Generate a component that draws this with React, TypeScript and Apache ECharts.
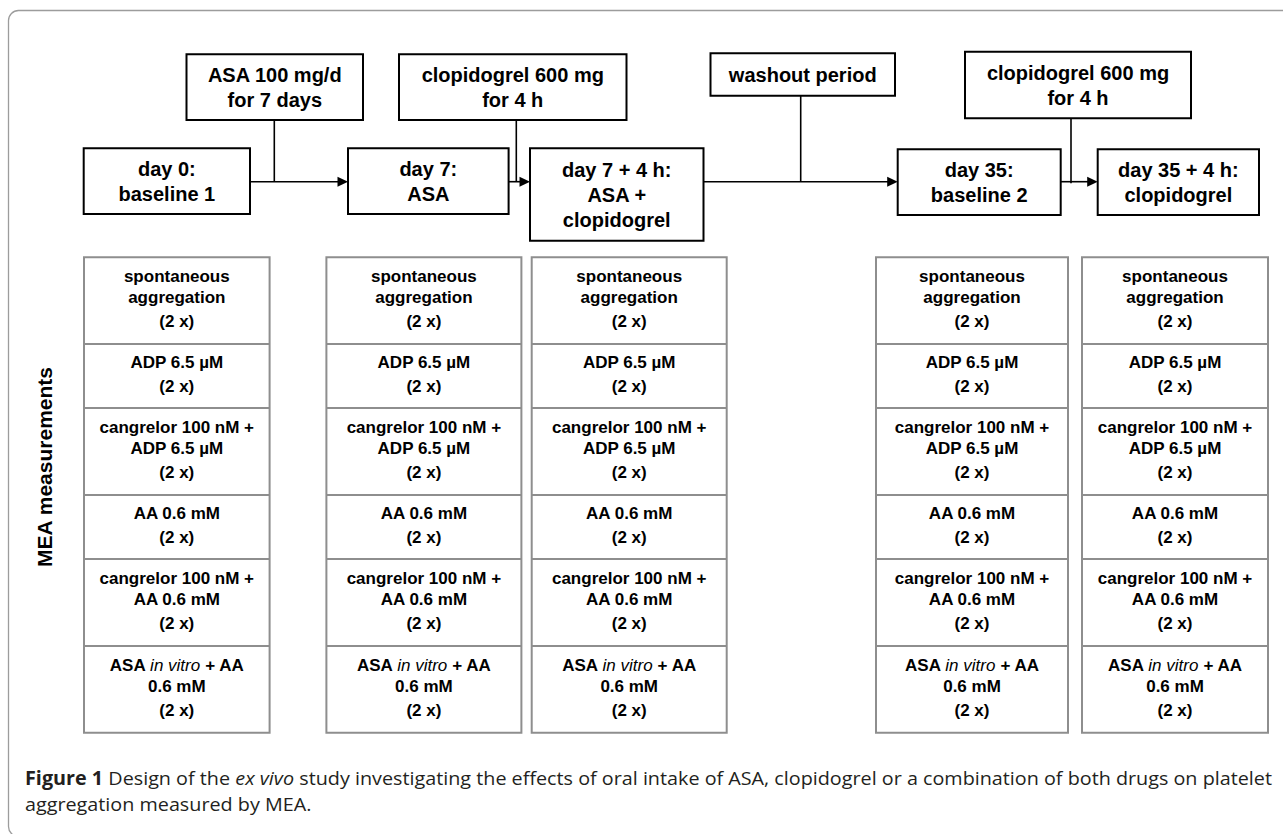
import React, { useEffect, useRef } from "react";
import * as echarts from "echarts";

// ---- content ----
const timepointLabels: string[][] = [
  ["day 0:", "baseline 1"],
  ["day 7:", "ASA"],
  ["day 7 + 4 h:", "ASA +", "clopidogrel"],
  ["day 35:", "baseline 2"],
  ["day 35 + 4 h:", "clopidogrel"],
];
const interventionLabels: string[][] = [
  ["ASA 100 mg/d", "for 7 days"],
  ["clopidogrel 600 mg", "for 4 h"],
  ["washout period"],
  ["clopidogrel 600 mg", "for 4 h"],
];
const measurementLabels: string[][] = [
  ["spontaneous", "aggregation"],
  ["ADP 6.5 µM"],
  ["cangrelor 100 nM +", "ADP 6.5 µM"],
  ["AA 0.6 mM"],
  ["cangrelor 100 nM +", "AA 0.6 mM"],
  ["ASA in vitro + AA", "0.6 mM"],
];
const italicPhrase = "in vitro";
const repeatLabel = "(2 x)";
const sideTitle = "MEA measurements";
const captionBold = "Figure 1";
const captionLine1A = " Design of the ";
const captionItalic = "ex vivo";
const captionLine1B =
  " study investigating the effects of oral intake of ASA, clopidogrel or a combination of both drugs on platelet";
const captionLine2 = "aggregation measured by MEA.";

// ---- layout (positions, not data) ----
const tpBoxes = [
  [83.7, 148.3, 250, 214],
  [348, 148.3, 508.6, 214],
  [530, 148.3, 703.5, 240.7],
  [897.7, 149.3, 1060.7, 215],
  [1097.7, 149.3, 1259, 215],
];
const ivBoxes = [
  [186.5, 54.3, 363, 120],
  [399, 54.3, 626.5, 120],
  [710.5, 53.3, 895, 95.7],
  [965, 51.7, 1191, 118.3],
];
const arrowY = 181.7;
const connectors = [
  { from: 250, to: 348, vx: 274.3, vTop: 120, vBot: 181.7 },
  { from: 508.6, to: 530, vx: 516.3, vTop: 120, vBot: 182 },
  { from: 703.5, to: 897.7, vx: 800.7, vTop: 95.7, vBot: 181.7 },
  { from: 1060.7, to: 1097.7, vx: 1071, vTop: 118.3, vBot: 183.3 },
];
const tableCols = [
  [84, 269.6],
  [326.4, 521.4],
  [531.7, 726.7],
  [876, 1068],
  [1082, 1268],
];
const tableRows = [257.3, 344, 408, 495, 559, 646, 732.7];

const FF = "'Liberation Sans', Arial, Helvetica, sans-serif";
const CF = "'Open Sans', Lato, sans-serif";

function measure(font: string, s: string): number {
  const c = document.createElement("canvas");
  const ctx = c.getContext("2d")!;
  ctx.font = font;
  return ctx.measureText(s).width;
}

function buildGraphics(): any[] {
  const els: any[] = [];
  // outer frame
  els.push({
    type: "rect",
    shape: { x: 8.5, y: 10.5, width: 1400, height: 826, r: 10 },
    style: { fill: "none", stroke: "#9c9c9c", lineWidth: 1.3 },
  });

  const boxText = (lines: string[], cx: number, cy: number, size: number, lh: number) => {
    const n = lines.length;
    lines.forEach((t, i) => {
      els.push({
        type: "text",
        x: cx,
        y: cy + (i - (n - 1) / 2) * lh,
        style: {
          text: t,
          fill: "#000",
          font: `bold ${size}px ${FF}`,
          align: "center",
          verticalAlign: "middle",
        },
      });
    });
  };

  const drawBox = (b: number[]) => {
    els.push({
      type: "rect",
      shape: { x: b[0], y: b[1], width: b[2] - b[0], height: b[3] - b[1] },
      style: { fill: "#fff", stroke: "#000", lineWidth: 2 },
    });
  };

  // connectors (drawn first, boxes above)
  connectors.forEach((c) => {
    els.push({
      type: "line",
      shape: { x1: c.from, y1: arrowY, x2: c.to - 9, y2: arrowY },
      style: { stroke: "#000", lineWidth: 1.6 },
    });
    els.push({
      type: "line",
      shape: { x1: c.vx, y1: c.vTop, x2: c.vx, y2: c.vBot },
      style: { stroke: "#000", lineWidth: 1.6 },
    });
    els.push({
      type: "polygon",
      shape: {
        points: [
          [c.to, arrowY],
          [c.to - 10.5, arrowY - 5],
          [c.to - 10.5, arrowY + 5],
        ],
      },
      style: { fill: "#000" },
    });
  });

  ivBoxes.forEach((b, i) => {
    drawBox(b);
    boxText(interventionLabels[i], (b[0] + b[2]) / 2, (b[1] + b[3]) / 2 + 0.5, 20, 25);
  });
  tpBoxes.forEach((b, i) => {
    drawBox(b);
    boxText(timepointLabels[i], (b[0] + b[2]) / 2, (b[1] + b[3]) / 2 + 0.5, 20, 25);
  });

  // tables
  const tfont = `bold 17px ${FF}`;
  const ifont = `italic 17px ${FF}`;
  tableCols.forEach((col) => {
    const [x0, x1] = col;
    const cx = (x0 + x1) / 2;
    els.push({
      type: "rect",
      shape: { x: x0, y: tableRows[0], width: x1 - x0, height: tableRows[6] - tableRows[0] },
      style: { fill: "#fff", stroke: "#8e8e8e", lineWidth: 2 },
    });
    for (let r = 1; r < tableRows.length - 1; r++) {
      els.push({
        type: "line",
        shape: { x1: x0, y1: tableRows[r], x2: x1, y2: tableRows[r] },
        style: { stroke: "#8e8e8e", lineWidth: 2 },
      });
    }
    measurementLabels.forEach((lines, r) => {
      const cy = (tableRows[r] + tableRows[r + 1]) / 2 - 1.5;
      const n = lines.length;
      const total = (n - 1) * 21 + 24.5;
      const top = cy - total / 2;
      lines.forEach((t, i) => {
        const y = top + i * 21;
        const k = t.indexOf(italicPhrase);
        if (k >= 0) {
          const a = t.slice(0, k);
          const b = t.slice(k + italicPhrase.length);
          els.push({
            type: "text",
            x: cx,
            y,
            style: {
              text: `{b|${a}}{i|${italicPhrase}}{b|${b}}`,
              rich: {
                b: { font: tfont, fill: "#000" },
                i: { font: ifont, fill: "#000" },
              },
              align: "center",
              verticalAlign: "middle",
            },
          });
        } else {
          els.push({
            type: "text",
            x: cx,
            y,
            style: { text: t, font: tfont, fill: "#000", align: "center", verticalAlign: "middle" },
          });
        }
      });
      els.push({
        type: "text",
        x: cx,
        y: top + total,
        style: { text: repeatLabel, font: tfont, fill: "#000", align: "center", verticalAlign: "middle" },
      });
    });
  });

  // side title
  els.push({
    type: "text",
    x: 44.6,
    y: 467,
    rotation: Math.PI / 2,
    style: {
      text: sideTitle,
      font: `bold 21px ${FF}`,
      fill: "#000",
      align: "center",
      verticalAlign: "middle",
    },
  });

  // caption
  const cs = 19;
  const fb = `bold ${cs}px ${CF}`;
  const fr = `${cs}px ${CF}`;
  const fi = `italic ${cs}px ${CF}`;
  const w1 =
    measure(fb, captionBold) +
    measure(fr, captionLine1A) +
    measure(fi, captionItalic) +
    measure(fr, captionLine1B);
  const target = 1273 - 25;
  const sx = w1 > 0 ? target / w1 : 1;
  const rich = {
    b: { font: fb, fill: "#231f20" },
    r: { font: fr, fill: "#231f20" },
    i: { font: fi, fill: "#231f20" },
  };
  els.push({
    type: "text",
    x: 25,
    y: 777.5,
    scaleX: sx,
    style: {
      text: `{b|${captionBold}}{r|${captionLine1A}}{i|${captionItalic}}{r|${captionLine1B}}`,
      rich,
      align: "left",
      verticalAlign: "middle",
    },
  });
  els.push({
    type: "text",
    x: 25,
    y: 803.5,
    scaleX: sx,
    style: {
      text: `{r|${captionLine2}}`,
      rich,
      align: "left",
      verticalAlign: "middle",
    },
  });
  return els;
}

export default function App() {
  const ref = useRef<HTMLDivElement>(null);
  useEffect(() => {
    if (!ref.current) return;
    const chart = echarts.init(ref.current, undefined, { renderer: "svg" });
    chart.setOption({
      animation: false,
      backgroundColor: "#ffffff",
      graphic: { elements: buildGraphics() },
    });
    return () => chart.dispose();
  }, []);
  return (
    <div
      ref={ref}
      style={{ position: "absolute", left: 0, top: 0, width: 1283, height: 834, background: "#fff" }}
    />
  );
}
